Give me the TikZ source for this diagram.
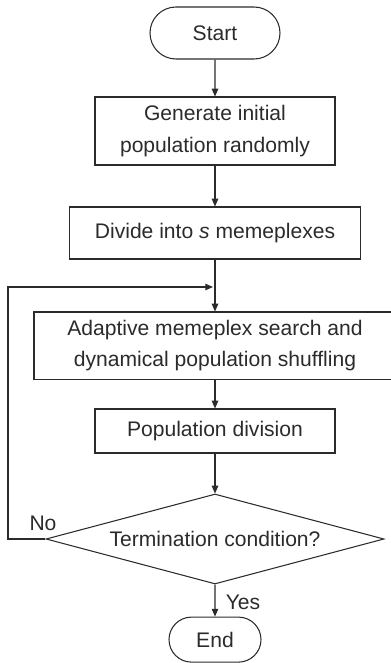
\documentclass[tikz,border=0pt]{standalone}
\usepackage{fontspec}
\setmainfont{Liberation Sans}
\usetikzlibrary{arrows.meta, shapes.geometric, shapes.misc}
\definecolor{inkgray}{HTML}{2B2B2B}

\begin{document}
\begin{tikzpicture}[>={Triangle[length=5.5pt, width=4.6pt]}, line width=0.75pt,
  every node/.style={text=inkgray, font=\fontsize{15}{22.6}\selectfont},
  termbox/.style={draw=inkgray, rounded rectangle, inner sep=0pt},
  procbox/.style={draw=inkgray, rectangle, align=center, inner sep=0pt},
  decbox/.style={draw=inkgray, diamond, aspect=3.75, inner sep=0pt},
  flow/.style={draw=inkgray, ->}]

% Page frame
\useasboundingbox (0,0) rectangle (9.75,-16.575);

% Start
\node[termbox, minimum width=3.25cm, minimum height=1.3cm] (start) at (5.375,-0.825) {Start};

% Initial population
\node[procbox, minimum width=6.0cm, minimum height=1.7cm] (init) at (5.375,-3.275)
      {Generate initial\\population randomly};

% Divide
\node[procbox, minimum width=7.275cm, minimum height=1.3cm] (divide) at (5.375,-5.825)
      {Divide into \textit{s} memeplexes};

% Loop merge point
\coordinate (merge) at (5.375,-7.175);

% Search and shuffling
\node[procbox, minimum width=9.05cm, minimum height=1.68cm] (search) at (5.375,-8.64)
      {Adaptive memeplex search and\\dynamical population shuffling};

% Population division
\node[procbox, minimum width=6.0cm, minimum height=1.1cm] (popdiv) at (5.375,-10.775)
      {Population division};

% Termination test
\node[decbox, minimum width=8.45cm, minimum height=2.25cm] (check) at (5.375,-13.475)
      {Termination condition?};

% End
\node[termbox, minimum width=2.3cm, minimum height=1.125cm] (stop) at (5.375,-15.99) {End};

% Main flow
\draw[flow] (start) -- (init);
\draw[flow] (init) -- (divide);
\draw[flow] (divide) -- (search);
\draw[flow] (search) -- (popdiv);
\draw[flow] (popdiv) -- (check);
\draw[flow] (check) -- (stop);

% Loop back
\draw[flow] (check.west) -- (0.2,-13.475) |- ([xshift=-0.05cm]merge);

% Labels
\node (nolbl) at (1.075,-13.075) {No};
\node (yeslbl) at (6.075,-15.05) {Yes};

\end{tikzpicture}
\end{document}
